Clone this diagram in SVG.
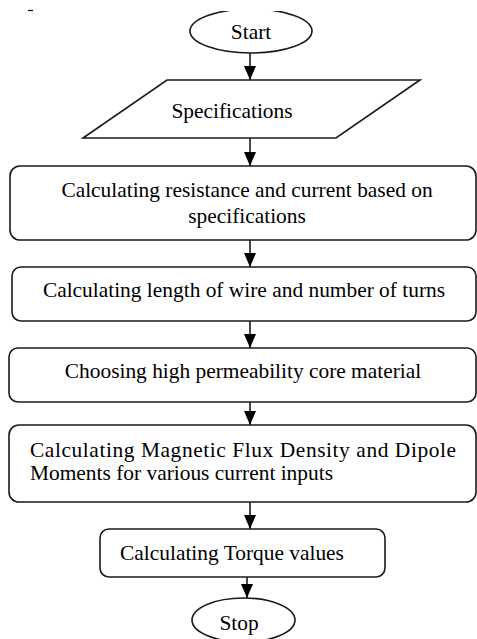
<svg xmlns="http://www.w3.org/2000/svg" width="477" height="639" viewBox="0 0 477 639">
  <style>
    .shape { fill: #fff; stroke: #1a1a1a; stroke-width: 1.6; }
    .label { font-family: "Liberation Serif", "Times New Roman", serif; font-size: 21.4px; fill: #000; }
    .mid { text-anchor: middle; }
    .conn { stroke: #1a1a1a; stroke-width: 1.6; fill: none; marker-end: url(#arrow); }
  </style>
  <defs>
    <marker id="arrow" markerUnits="userSpaceOnUse" markerWidth="14" markerHeight="12" refX="14" refY="6" orient="auto">
      <path d="M0,0 L14,6 L0,12 Z" fill="#000"/>
    </marker>
    <clipPath id="topclip">
      <rect x="0" y="11" width="477" height="628"/>
    </clipPath>
  </defs>
  <rect x="0" y="0" width="477" height="639" fill="#fff"/>
  <line x1="28" y1="10.5" x2="33" y2="10.5" stroke="#000" stroke-width="1.2"/>

  <g id="connectors">
    <line class="conn" x1="250" y1="53" x2="250" y2="80"/>
    <line class="conn" x1="250" y1="138" x2="250" y2="166"/>
    <line class="conn" x1="250" y1="240" x2="250" y2="267"/>
    <line class="conn" x1="250" y1="321" x2="250" y2="348"/>
    <line class="conn" x1="250" y1="402" x2="250" y2="425"/>
    <line class="conn" x1="250" y1="502" x2="250" y2="529"/>
    <line class="conn" x1="247" y1="577" x2="247" y2="598"/>
  </g>

  <g id="start">
    <ellipse class="shape" cx="251" cy="31" rx="61" ry="22" clip-path="url(#topclip)"/>
    <text class="label mid" x="251" y="39">Start</text>
  </g>

  <g id="specifications">
    <polygon class="shape" points="167,80 420,80 336,138 83,138"/>
    <text class="label mid" x="232" y="118">Specifications</text>
  </g>

  <g id="calc-resistance">
    <rect class="shape" x="10" y="166" width="466" height="74" rx="10"/>
    <text class="label mid" x="247" y="197">Calculating resistance and current based on</text>
    <text class="label mid" x="247" y="223">specifications</text>
  </g>

  <g id="calc-length">
    <rect class="shape" x="12" y="267" width="464" height="54" rx="9"/>
    <text class="label mid" x="244" y="297">Calculating length of wire and number of turns</text>
  </g>

  <g id="choose-core">
    <rect class="shape" x="9" y="348" width="467" height="54" rx="9"/>
    <text class="label mid" x="243" y="378">Choosing high permeability core material</text>
  </g>

  <g id="calc-flux">
    <rect class="shape" x="9" y="425" width="467" height="77" rx="10"/>
    <text class="label" x="30" y="457" textLength="426" lengthAdjust="spacing">Calculating Magnetic Flux Density and Dipole</text>
    <text class="label" x="30" y="480">Moments for various current inputs</text>
  </g>

  <g id="calc-torque">
    <rect class="shape" x="100" y="529" width="285" height="48" rx="9"/>
    <text class="label mid" x="232" y="560">Calculating Torque values</text>
  </g>

  <g id="stop">
    <ellipse class="shape" cx="243.5" cy="620" rx="51.5" ry="22"/>
    <text class="label mid" x="239" y="630">Stop</text>
  </g>
</svg>
